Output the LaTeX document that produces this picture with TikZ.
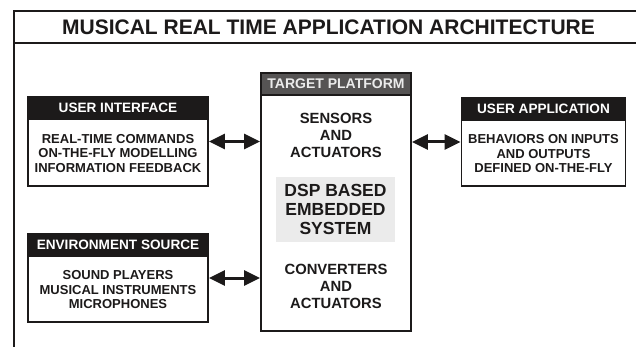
\documentclass[tikz,border=0pt]{standalone}
\usepackage{fontspec}
\setmainfont{Liberation Sans}
\usetikzlibrary{arrows.meta,calc,positioning}

\definecolor{inchiostro}{HTML}{1C1A1A}
\definecolor{testata}{HTML}{565454}
\definecolor{fondodsp}{HTML}{EBEBEB}

\tikzset{
  pannello/.style={draw=inchiostro, line width=1.8pt, fill=white, inner sep=0pt},
  testatina/.style={draw=inchiostro, fill=inchiostro, line width=1.8pt, text=white,
    font=\bfseries\fontsize{13.6}{15}\selectfont, minimum height=22pt, inner sep=0pt},
  corpo/.style={text=inchiostro, align=center, inner sep=0pt,
    font=\bfseries\fontsize{13}{14.5}\selectfont},
  interno/.style={text=inchiostro, align=center, inner sep=0pt,
    font=\bfseries\fontsize{14.8}{17}\selectfont},
  freccia/.style={draw=inchiostro, line width=3pt,
    {Triangle[length=16pt,width=15pt]}-{Triangle[length=16pt,width=15pt]}},
}

\begin{document}
\begin{tikzpicture}[x=1pt,y=-1pt]
    \useasboundingbox (0,0) rectangle (636,347);
    \clip (0,0) rectangle (636,347);
    \fill[white] (0,0) rectangle (636,347);

    % Cornice e titolo
    \draw[inchiostro, line width=2pt] (14,11) rectangle (700,420);
    \draw[inchiostro, line width=2pt] (14,43) -- (700,43);
    \node[text=inchiostro, font=\bfseries\fontsize{21}{24}\selectfont] (titolo) at (328.5,27.5)
        {MUSICAL REAL TIME APPLICATION ARCHITECTURE};

    % Piattaforma centrale
    \node[pannello, minimum width=150pt, minimum height=258pt] (tp) at (336,202) {};
    \node[testatina, fill=testata, minimum width=150pt, anchor=north, text=white!92!black,
          font=\bfseries\fontsize{14}{15}\selectfont] (tphead) at (tp.north) {TARGET PLATFORM};
    \node[interno] (sens) at (336,135) {SENSORS\\AND\\ACTUATORS};
    \node[interno, fill=fondodsp, minimum width=119pt, minimum height=65pt,
          font=\bfseries\fontsize{17.5}{19}\selectfont] (dsp) at (335.5,209.5)
        {DSP BASED\\EMBEDDED\\SYSTEM};
    \node[interno] (conv) at (336,286) {CONVERTERS\\AND\\ACTUATORS};

    % Pannelli laterali
    \node[pannello, minimum width=180pt, minimum height=89pt] (ui) at (118,141.5) {};
    \node[testatina, minimum width=180pt, anchor=north] (uihead) at (ui.north) {USER INTERFACE};
    \node[corpo] (uitext) at ($(uihead.south)!.5!(ui.south)$)
        {REAL-TIME COMMANDS\\ON-THE-FLY MODELLING\\INFORMATION FEEDBACK};

    \node[pannello, minimum width=180pt, minimum height=88pt] (es) at (118,278) {};
    \node[testatina, minimum width=180pt, anchor=north] (eshead) at (es.north) {ENVIRONMENT SOURCE};
    \node[corpo] (estext) at ($(eshead.south)!.5!(es.south)$)
        {SOUND PLAYERS\\MUSICAL INSTRUMENTS\\MICROPHONES};

    \node[pannello, minimum width=164pt, minimum height=88pt] (ua) at (543.5,142) {};
    \node[testatina, minimum width=164pt, anchor=north] (uahead) at (ua.north) {USER APPLICATION};
    \node[corpo] (uatext) at ($(uahead.south)!.5!(ua.south)$)
        {BEHAVIORS ON INPUTS\\AND OUTPUTS\\DEFINED ON-THE-FLY};

    % Frecce
    \draw[freccia] (ui.east) -- (ui.east -| tp.west);
    \draw[freccia] (es.east) -- (es.east -| tp.west);
    \draw[freccia] (ua.west -| tp.east) -- (ua.west);
\end{tikzpicture}
\end{document}
